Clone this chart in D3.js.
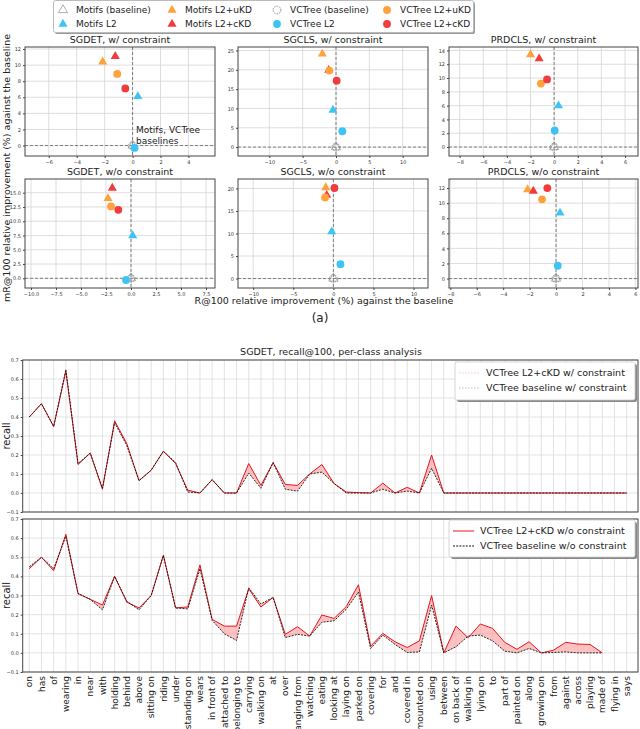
<!DOCTYPE html>
<meta charset="utf-8">
<style>
  body { margin: 0; background: #fff; }
  svg { font-family: "DejaVu Sans", sans-serif; }
</style>
<svg width="640" height="729"></svg>
<script src="https://d3js.org/d3.v7.min.js"></script>
<script>

// ---------------- data ----------------
var methods = ["Motifs (baseline)", "Motifs L2", "Motifs L2+uKD", "Motifs L2+cKD",
               "VCTree (baseline)", "VCTree L2", "VCTree L2+uKD", "VCTree L2+cKD"];

var panelTitles = ["SGDET, w/ constraint", "SGCLS, w/ constraint", "PRDCLS, w/ constraint",
                   "SGDET, w/o constraint", "SGCLS, w/o constraint", "PRDCLS, w/o constraint"];

// R@100 relative improvement (%), one row per panel, one value per method
var rImprove = [
  [0, 0.38, -2.14, -1.24, 0, 0.14, -1.10, -0.52],
  [0, -0.45, -2.05, -1.10, 0, 0.95, -1.00, 0.10],
  [0, 0.37, -2.00, -1.27, 0, 0.05, -1.12, -0.60],
  [0, 0.17, -2.30, -1.87, 0, -0.50, -2.00, -1.27],
  [0, -0.21, -0.96, -0.83, 0, 0.88, -1.04, 0.13],
  [0, 0.30, -2.15, -1.72, 0, 0.13, -1.06, -0.66]
];
// mR@100 relative improvement (%)
var mrImprove = [
  [0, 6.1, 10.4, 11.1, 0, -0.3, 8.9, 7.1],
  [0, 9.6, 24.1, 19.9, 0, 4.1, 19.8, 17.2],
  [0, 6.0, 13.4, 12.8, 0, 2.4, 9.2, 9.8],
  [0, 7.5, 14.0, 15.8, 0, -0.3, 12.6, 12.0],
  [0, 10.4, 20.2, 18.5, 0, 3.2, 18.0, 20.1],
  [0, 8.7, 11.8, 11.6, 0, 1.7, 10.5, 12.0]
];

var xDomains = [[-7.7, 5.9], [-14.7, 13.8], [-8.9, 7.1], [-10.6, 8.4], [-11.9, 11.8], [-8.1, 6.2]];
var yDomains = [[-1.3, 12.25], [-2.3, 25.9], [-1.3, 14.5], [-1.7, 17.4], [-2.1, 22.1], [-1.25, 13.2]];
var xTicks = [[-6, -4, -2, 0, 2, 4], [-10, -5, 0, 5, 10], [-8, -6, -4, -2, 0, 2, 4, 6],
              [-10, -7.5, -5, -2.5, 0, 2.5, 5, 7.5], [-10, -5, 0, 5, 10], [-8, -6, -4, -2, 0, 2, 4, 6]];
var yTicks = [[0, 2, 4, 6, 8, 10, 12], [0, 5, 10, 15, 20, 25], [0, 2, 4, 6, 8, 10, 12, 14],
              [0, 2.5, 5, 7.5, 10, 12.5, 15], [0, 5, 10, 15, 20], [0, 2, 4, 6, 8, 10, 12]];
var tickFormats = ["d", "d", "d", ".1f", "d", "d"];

var predicates = ["on", "has", "of", "wearing", "in", "near", "with", "holding", "behind", "above",
  "sitting on", "riding", "under", "standing on", "wears", "in front of", "attached to", "belonging to",
  "carrying", "walking on", "at", "over", "hanging from", "watching", "eating", "looking at",
  "laying on", "parked on", "covering", "for", "and", "covered in", "mounted on", "using", "between",
  "on back of", "walking in", "lying on", "to", "part of", "painted on", "along", "growing on",
  "from", "against", "across", "playing", "made of", "flying in", "says"];

// per-class recall@100, SGDET, w/ constraint
var ckdWith = [0.40, 0.47, 0.35, 0.64, 0.15, 0.21, 0.02, 0.38, 0.26, 0.065,
  0.12, 0.22, 0.155, 0.015, 0.0, 0.07, 0.0, 0.0, 0.155, 0.04,
  0.16, 0.045, 0.04, 0.10, 0.15, 0.05, 0.005, 0.002, 0.0, 0.052,
  0.0, 0.03, 0.0, 0.20, 0, 0, 0, 0, 0, 0,
  0, 0, 0, 0, 0, 0, 0, 0, 0, 0];
var baseWith = [0.40, 0.47, 0.35, 0.65, 0.155, 0.21, 0.025, 0.37, 0.25, 0.065,
  0.12, 0.22, 0.16, 0.005, 0.0, 0.07, 0.0, 0.0, 0.105, 0.025,
  0.16, 0.02, 0.01, 0.10, 0.11, 0.05, 0.0, 0.0, 0.0, 0.02,
  0.0, 0.01, 0.0, 0.13, 0, 0, 0, 0, 0, 0,
  0, 0, 0, 0, 0, 0, 0, 0, 0, 0];
// per-class recall@100, SGDET, w/o constraint
var ckdWithout = [0.44, 0.50, 0.43, 0.62, 0.31, 0.28, 0.25, 0.40, 0.265, 0.235,
  0.30, 0.51, 0.235, 0.24, 0.46, 0.175, 0.14, 0.14, 0.335, 0.24,
  0.29, 0.097, 0.137, 0.088, 0.198, 0.18, 0.242, 0.356, 0.035, 0.102,
  0.058, 0.028, 0.063, 0.30, 0.0, 0.14, 0.079, 0.151, 0.128, 0.055,
  0.019, 0.058, 0.0, 0.014, 0.055, 0.046, 0.044, 0.0, null, null];
var baseWithout = [0.45, 0.50, 0.44, 0.61, 0.31, 0.28, 0.225, 0.40, 0.27, 0.225,
  0.30, 0.51, 0.235, 0.23, 0.44, 0.17, 0.10, 0.065, 0.34, 0.256,
  0.29, 0.08, 0.097, 0.088, 0.16, 0.168, 0.228, 0.318, 0.023, 0.093,
  0.044, 0.002, 0.005, 0.25, 0.0, 0.032, 0.088, 0.093, 0.063, 0.009,
  0.0, 0.023, 0.0, 0.002, 0.005, 0.0, 0.0, 0.0, null, null];

// ---------------- styles ----------------
var ORANGE = "#ffa23c", RED = "#f23c3c", BLUE = "#3ec4f4";
var methodFill = ["none", BLUE, ORANGE, RED, "none", BLUE, ORANGE, RED];
var svg = d3.select("svg");

function marker(g, i, cx, cy) {
  var tri = i < 4;
  var p = g.append("path")
      .attr("transform", "translate(" + cx + "," + cy + ")")
      .attr("d", d3.symbol().type(tri ? d3.symbolTriangle : d3.symbolCircle).size(tri ? 36 : 48)());
  if (i === 0) p.attr("fill", "none").attr("stroke", "#999").attr("stroke-width", 0.8);
  else if (i === 4) p.attr("fill", "none").attr("stroke", "#777").attr("stroke-width", 0.8).attr("stroke-dasharray", "1.5,1");
  else p.attr("fill", methodFill[i]);
  return p;
}

// ---------------- scatter legend ----------------
var lgCols = [63, 172, 277, 387];
var lg = svg.append("g");
lg.append("rect").attr("x", 55).attr("y", 2).attr("width", 420).attr("height", 32).attr("rx", 2).attr("fill", "#999");
lg.append("rect").attr("x", 53.5).attr("y", 0.5).attr("width", 420).attr("height", 32).attr("rx", 2)
  .attr("fill", "#fff").attr("stroke", "#bbb");
methods.forEach(function(m, i) {
  var cx = lgCols[Math.floor(i / 2)], cy = i % 2 ? 24 : 10;
  marker(lg, i, cx, cy);
  lg.append("text").attr("x", cx + 13).attr("y", cy).attr("dy", "0.35em")
    .attr("font-size", 9).attr("fill", "#222").text(m);
});

// ---------------- scatter panels ----------------
var cols = [[25, 215], [238, 428], [449, 638]];
var rows = [[47, 156], [179, 288]];

panelTitles.forEach(function(title, k) {
  var c = cols[k % 3], r = rows[Math.floor(k / 3)];
  var x = d3.scaleLinear().domain(xDomains[k]).range(c);
  var y = d3.scaleLinear().domain(yDomains[k]).range([r[1], r[0]]);
  var fmt = d3.format(tickFormats[k]);
  var g = svg.append("g");

  g.append("g").selectAll("line").data(xTicks[k]).join("line")
    .attr("x1", x).attr("x2", x).attr("y1", r[0]).attr("y2", r[1])
    .attr("stroke", "#d6d6d6").attr("stroke-width", 0.8);
  g.append("g").selectAll("line").data(yTicks[k]).join("line")
    .attr("y1", y).attr("y2", y).attr("x1", c[0]).attr("x2", c[1])
    .attr("stroke", "#d6d6d6").attr("stroke-width", 0.8);

  g.append("line").attr("x1", x(0)).attr("x2", x(0)).attr("y1", r[0]).attr("y2", r[1])
    .attr("stroke", "#666").attr("stroke-width", 0.8).attr("stroke-dasharray", "3,2");
  g.append("line").attr("y1", y(0)).attr("y2", y(0)).attr("x1", c[0]).attr("x2", c[1])
    .attr("stroke", "#666").attr("stroke-width", 0.8).attr("stroke-dasharray", "3,2");

  var ax = g.append("g").attr("transform", "translate(0," + r[1] + ")")
    .call(d3.axisBottom(x).tickValues(xTicks[k]).tickSize(2).tickPadding(2).tickFormat(fmt));
  var ay = g.append("g").attr("transform", "translate(" + c[0] + ",0)")
    .call(d3.axisLeft(y).tickValues(yTicks[k]).tickSize(2).tickPadding(2).tickFormat(fmt));
  [ax, ay].forEach(function(a) {
    a.attr("font-size", 5).attr("font-family", null);
    a.select(".domain").remove();
    a.selectAll("line").attr("stroke", "#444");
    a.selectAll("text").attr("fill", "#333");
  });

  g.append("rect").attr("x", c[0]).attr("y", r[0]).attr("width", c[1] - c[0]).attr("height", r[1] - r[0])
    .attr("fill", "none").attr("stroke", "#444").attr("stroke-width", 1);

  [0, 4, 1, 2, 3, 5, 6, 7].forEach(function(i) {
    marker(g, i, x(rImprove[k][i]), y(mrImprove[k][i]));
  });

  g.append("text").attr("x", (c[0] + c[1]) / 2).attr("y", r[0] - 4).attr("text-anchor", "middle")
    .attr("font-size", 9.5).attr("fill", "#222").text(title);

  if (k === 0) {
    g.append("text").attr("x", x(0.25)).attr("y", y(1.55)).attr("font-size", 9).attr("fill", "#222")
      .text("Motifs, VCTree");
    g.append("text").attr("x", x(0.25)).attr("y", y(1.55) + 11).attr("font-size", 9).attr("fill", "#222")
      .text("baselines");
  }
});

svg.append("text").attr("transform", "translate(10,168) rotate(-90)").attr("text-anchor", "middle")
  .attr("font-size", 9.5).attr("fill", "#222").text("mR@100 relative improvement (%) against the baseline");
svg.append("text").attr("x", 324).attr("y", 304).attr("text-anchor", "middle")
  .attr("font-size", 9.5).attr("fill", "#222").text("R@100 relative improvement (%) against the baseline");
svg.append("text").attr("x", 320).attr("y", 322).attr("text-anchor", "middle")
  .attr("font-size", 12).attr("fill", "#222").text("(a)");

// ---------------- per-class line charts ----------------
var lx = d3.scaleLinear().domain([-0.54, 49.93]).range([22.7, 638]);
var lineTicks = [-0.1, 0.0, 0.1, 0.2, 0.3, 0.4, 0.5, 0.6, 0.7];

var linePanels = [
  {top: 360, bottom: 512, ckd: ckdWith, base: baseWith,
   labels: ["VCTree L2+cKD w/ constraint", "VCTree baseline w/ constraint"], faint: true,
   box: [455, 362, 180, 38], xTickLabels: false},
  {top: 519, bottom: 672, ckd: ckdWithout, base: baseWithout,
   labels: ["VCTree L2+cKD w/o constraint", "VCTree baseline w/o constraint"], faint: false,
   box: [449, 520, 186, 37], xTickLabels: true}
];

svg.append("text").attr("x", 331).attr("y", 355).attr("text-anchor", "middle")
  .attr("font-size", 9.5).attr("fill", "#222").text("SGDET, recall@100, per-class analysis");

linePanels.forEach(function(p) {
  var ly = d3.scaleLinear().domain([-0.1, 0.7]).range([p.bottom, p.top]);
  var g = svg.append("g");
  var idx = d3.range(predicates.length);

  g.append("g").selectAll("line").data(idx).join("line")
    .attr("x1", lx).attr("x2", lx).attr("y1", p.top).attr("y2", p.bottom)
    .attr("stroke", "#dcdcdc").attr("stroke-width", 0.8);
  g.append("g").selectAll("line").data(lineTicks).join("line")
    .attr("y1", ly).attr("y2", ly).attr("x1", 22.7).attr("x2", 638)
    .attr("stroke", "#dcdcdc").attr("stroke-width", 0.8);

  var area = d3.area()
      .defined(function(i) { return p.ckd[i] != null; })
      .x(function(i) { return lx(i); })
      .y0(function(i) { return ly(p.base[i]); })
      .y1(function(i) { return ly(p.ckd[i]); });
  g.append("path").attr("d", area(idx)).attr("fill", "#ff9a9a").attr("fill-opacity", 0.6);

  var line = function(arr) {
    return d3.line()
      .defined(function(i) { return arr[i] != null; })
      .x(function(i) { return lx(i); })
      .y(function(i) { return ly(arr[i]); })(idx);
  };
  g.append("path").attr("d", line(p.ckd)).attr("fill", "none").attr("stroke", "#e8141a").attr("stroke-width", 1);
  g.append("path").attr("d", line(p.base)).attr("fill", "none").attr("stroke", "#111")
    .attr("stroke-width", 0.9).attr("stroke-dasharray", "2,1.2");

  var ay = g.append("g").attr("transform", "translate(22.7,0)")
    .call(d3.axisLeft(ly).tickValues(lineTicks).tickSize(2).tickPadding(2).tickFormat(d3.format(".1f")));
  ay.attr("font-size", 5).attr("font-family", null);
  ay.select(".domain").remove();
  ay.selectAll("line").attr("stroke", "#444");
  ay.selectAll("text").attr("fill", "#333");

  g.append("rect").attr("x", 22.7).attr("y", p.top).attr("width", 638 - 22.7).attr("height", p.bottom - p.top)
    .attr("fill", "none").attr("stroke", "#444").attr("stroke-width", 1);

  g.append("text").attr("transform", "translate(10," + (p.top + p.bottom) / 2 + ") rotate(-90)")
    .attr("text-anchor", "middle").attr("font-size", 10).attr("fill", "#222").text("recall");

  // legend
  var b = p.box;
  g.append("rect").attr("x", b[0] + 2).attr("y", b[1] + 2).attr("width", b[2]).attr("height", b[3])
    .attr("rx", 2).attr("fill", "#888");
  g.append("rect").attr("x", b[0]).attr("y", b[1]).attr("width", b[2]).attr("height", b[3])
    .attr("rx", 2).attr("fill", "#fff").attr("stroke", "#ccc").attr("stroke-width", 0.8);
  p.labels.forEach(function(t, j) {
    var yy = b[1] + 11 + j * 15;
    var h = g.append("line").attr("x1", b[0] + 4).attr("x2", b[0] + 25).attr("y1", yy).attr("y2", yy)
      .attr("stroke-width", 1);
    if (j === 0) h.attr("stroke", "#e8141a");
    else h.attr("stroke", "#111").attr("stroke-dasharray", "2,1.2");
    if (p.faint) h.attr("stroke-opacity", 0.25).attr("stroke-dasharray", "1.5,1.5");
    g.append("text").attr("x", b[0] + 31).attr("y", yy).attr("dy", "0.35em")
      .attr("font-size", 9.5).attr("fill", "#222").text(t);
  });

  if (p.xTickLabels) {
    g.append("g").selectAll("text").data(predicates).join("text")
      .attr("transform", function(d, i) { return "translate(" + lx(i) + "," + (p.bottom + 4) + ") rotate(-90)"; })
      .attr("text-anchor", "end").attr("dy", "0.35em").attr("font-size", 9).attr("fill", "#222")
      .text(function(d) { return d; });
  }
});

</script>
